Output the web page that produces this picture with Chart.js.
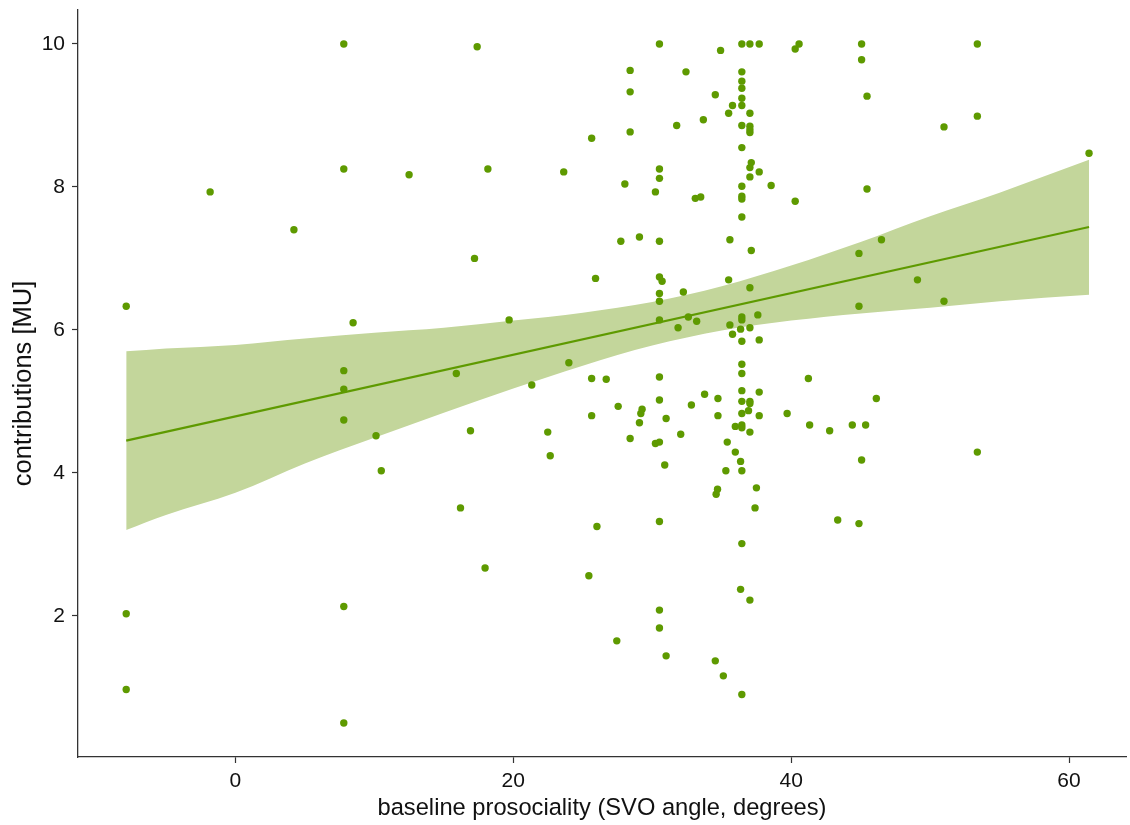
<!DOCTYPE html>
<html>
<head>
<meta charset="utf-8">
<script src="https://cdn.jsdelivr.net/npm/chart.js@4/dist/chart.umd.min.js"></script>
<style>
  html, body { margin: 0; padding: 0; background: #ffffff; }
  #wrap { width: 1130px; height: 825px; position: relative; }
</style>
</head>
<body>
<div id="wrap"><canvas id="c"></canvas></div>
<script>
// ---- data ----
const svoAngle = [
  -7.86, -7.86, -7.86,
  -1.82, 4.21,
  7.80, 7.80, 7.80, 7.80, 7.80, 7.80, 7.80,
  8.47, 10.12, 10.5, 12.5, 15.9, 16.2, 16.92, 17.21, 17.4, 17.97, 18.17, 19.7,
  21.33, 22.48, 22.66, 23.63, 24.0, 25.44, 25.64, 25.64, 25.64, 25.92, 26.02, 26.69,
  27.45, 27.55, 27.74, 28.03, 28.41, 28.41, 28.41, 28.41, 29.08, 29.08, 29.18, 29.27,
  30.23, 30.23,
  30.52, 30.52, 30.52, 30.52, 30.52, 30.52, 30.52, 30.52, 30.52, 30.52, 30.52, 30.52, 30.52, 30.52,
  30.71, 30.9, 31.0, 31.0, 31.76, 31.86, 32.05, 32.24, 32.43, 32.6, 32.82,
  33.1, 33.2, 33.49, 33.68, 33.77, 34.54, 34.54, 34.73, 34.73, 34.7, 34.6, 34.92,
  35.12, 35.3, 35.4, 35.5, 35.5, 35.59, 35.59, 35.78, 35.78, 35.98, 35.98,
  36.36, 36.36, 36.36,
  36.45, 36.45, 36.45, 36.45, 36.45, 36.45, 36.45, 36.45, 36.45, 36.45, 36.45, 36.45, 36.45,
  36.45, 36.45, 36.45, 36.45, 36.45, 36.45, 36.45, 36.45, 36.45, 36.45, 36.45, 36.45,
  36.93,
  37.03, 37.03, 37.03, 37.03, 37.03, 37.03, 37.03, 37.03, 37.03, 37.03, 37.03, 37.03, 37.03,
  37.13, 37.13, 37.4, 37.5, 37.6,
  37.70, 37.70, 37.70, 37.70, 37.70,
  38.56, 39.71, 40.29, 40.29, 40.57, 41.24, 41.33, 42.77, 43.35, 44.4,
  44.88, 44.88, 44.88, 45.07, 45.07, 45.07, 45.36, 45.46, 45.46, 46.13, 46.5,
  49.09, 51.0, 51.0, 53.4, 53.4, 53.4, 61.44
];
const contributions = [
  6.33, 2.03, 0.97,
  7.93, 7.40,
  10.0, 8.25, 5.43, 5.17, 4.74, 2.13, 0.50,
  6.10, 4.52, 4.03, 8.17, 5.39, 3.51, 4.59, 7.00, 9.96, 2.67, 8.25, 6.14,
  5.23, 4.57, 4.24, 8.21, 5.54, 2.56, 8.68, 5.32, 4.80, 6.72, 3.25, 5.31,
  1.65, 4.93, 7.24, 8.04, 9.63, 9.33, 8.77, 4.48, 7.30, 4.70, 4.83, 4.89,
  7.93, 4.41,
  10.0, 8.25, 8.12, 7.24, 6.74, 6.51, 6.40, 6.14, 5.34, 5.02, 4.43, 3.32, 2.08, 1.83,
  6.68, 4.11, 4.76, 1.44, 8.86, 6.03, 4.54, 6.53, 9.61, 6.18, 4.95,
  7.84, 6.12, 7.86, 8.94, 5.10, 9.29, 1.37, 5.04, 4.80, 3.77, 3.70, 9.91,
  1.16, 4.03, 4.43, 9.03, 6.70, 7.26, 6.07, 9.14, 5.94, 4.65, 4.29,
  6.01, 4.16, 2.37,
  10.0, 9.61, 9.48, 9.38, 9.24, 9.14, 8.86, 8.55, 8.01, 7.87, 7.83, 7.58, 6.18,
  6.14, 5.84, 5.52, 5.39, 5.15, 5.00, 4.83, 4.67, 4.63, 4.03, 3.01, 0.90,
  4.87,
  10.0, 9.03, 8.85, 8.80, 8.76, 8.27, 8.14, 6.59, 6.03, 5.00, 4.97, 4.57, 2.22,
  8.34, 7.11, 3.51, 3.79, 6.21,
  10.0, 8.21, 5.86, 5.13, 4.80,
  8.02, 4.83, 9.93, 7.80, 10.0, 5.32, 4.67, 4.59, 3.34, 4.67,
  7.07, 6.33, 3.29, 10.0, 9.78, 4.18, 4.67, 9.27, 7.97, 5.04, 7.26,
  6.70, 8.84, 6.40, 10.0, 8.99, 4.29, 8.47
];

// fitted line (end points)
const fitX = [-7.86, 61.44];
const fitY = [4.45, 7.44];

// confidence band
const bandX     = [-7.86, -5,   0,    5,    10,   15,   20,   25,   30,   35,   40,   45,   50,   55,   61.44];
const bandUpper = [5.70, 5.74, 5.79, 5.88, 5.96, 6.03, 6.13, 6.24, 6.39, 6.61, 6.90, 7.23, 7.59, 7.92, 8.38];
const bandLower = [3.20, 3.41, 3.72, 4.13, 4.49, 4.84, 5.18, 5.50, 5.78, 5.99, 6.13, 6.23, 6.31, 6.40, 6.49];

const xTicks = [0, 20, 40, 60];
const yTicks = [2, 4, 6, 8, 10];

const xTitle = 'baseline prosociality (SVO angle, degrees)';
const yTitle = 'contributions [MU]';

// ---- chart ----
const GREEN = '#5E9A00';
const BAND = '#C3D69B';
const AXIS = '#333333';
const FONT = "'Liberation Sans', Arial, sans-serif";

const pts = svoAngle.map((x, i) => ({ x: x, y: contributions[i] }));
const fitPts = fitX.map((x, i) => ({ x: x, y: fitY[i] }));
const upPts = bandX.map((x, i) => ({ x: x, y: bandUpper[i] }));
const loPts = bandX.map((x, i) => ({ x: x, y: bandLower[i] }));

new Chart(document.getElementById('c'), {
  type: 'scatter',
  data: {
    datasets: [
      { data: pts, backgroundColor: GREEN, borderWidth: 0, pointRadius: 3.7, order: 0 },
      { type: 'line', data: fitPts, borderColor: GREEN, borderWidth: 2.2, pointRadius: 0, fill: false, order: 1 },
      { type: 'line', data: loPts, borderWidth: 0, borderColor: 'rgba(0,0,0,0)', pointRadius: 0, fill: false,
        cubicInterpolationMode: 'monotone', order: 3 },
      { type: 'line', data: upPts, borderWidth: 0, borderColor: 'rgba(0,0,0,0)', pointRadius: 0, fill: '-1',
        backgroundColor: BAND, cubicInterpolationMode: 'monotone', order: 2 }
    ]
  },
  options: {
    responsive: true,
    maintainAspectRatio: false,
    animation: false,
    layout: { padding: { top: 10, right: 2, left: 0, bottom: 0 } },
    plugins: { legend: { display: false }, tooltip: { enabled: false } },
    scales: {
      x: {
        type: 'linear',
        min: -11.33, max: 64.1,
        afterBuildTicks: (s) => { s.ticks = xTicks.map(v => ({ value: v })); },
        afterFit: (s) => { s.height = 68; s.paddingLeft = 0; s.paddingRight = 0; },
        border: { display: true, color: AXIS, width: 1.3 },
        grid: { display: true, drawOnChartArea: false, drawTicks: true, tickLength: 6, color: AXIS, tickWidth: 1.2 },
        ticks: { color: '#111', font: { family: FONT, size: 21 }, padding: 6, maxRotation: 0 },
        title: { display: true, text: xTitle, color: '#111', font: { family: FONT, size: 23.7 }, padding: { top: 0, bottom: 2 } }
      },
      y: {
        type: 'linear',
        min: 0.025, max: 10.475,
        afterBuildTicks: (s) => { s.ticks = yTicks.map(v => ({ value: v })); },
        afterFit: (s) => { s.width = 78; s.paddingTop = 0; s.paddingBottom = 0; },
        border: { display: true, color: AXIS, width: 1.3 },
        grid: { display: true, drawOnChartArea: false, drawTicks: true, tickLength: 6, color: AXIS, tickWidth: 1.2 },
        ticks: { color: '#111', font: { family: FONT, size: 21 }, padding: 7 },
        title: { display: true, text: yTitle, color: '#111', font: { family: FONT, size: 25.5 }, padding: { top: 9, bottom: 0 } }
      }
    }
  }
});
</script>
</body>
</html>
